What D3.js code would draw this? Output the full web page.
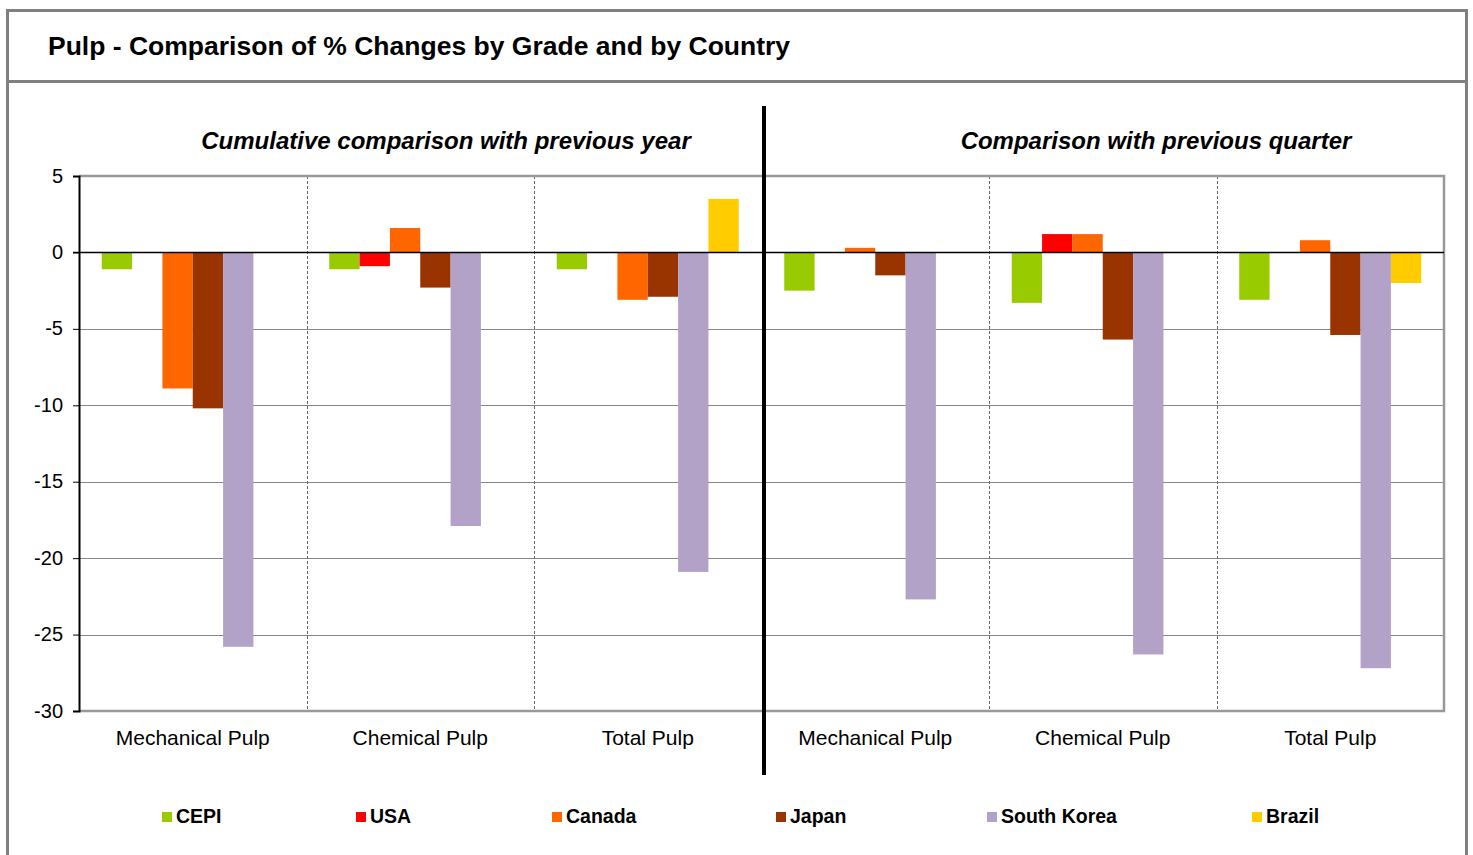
<!DOCTYPE html>
<html lang="en">
<head>
<meta charset="utf-8">
<title>Pulp - Comparison of % Changes</title>
<style>
  body { margin: 0; background: #fff; font-family: "Liberation Sans", Arial, sans-serif; }
  svg { display: block; }
</style>
<script src="https://cdn.jsdelivr.net/npm/d3@7"></script>
</head>
<body>
<script>
// categories along the x axis (first three: cumulative vs prev year, last three: vs prev quarter)
var categories = ["Mechanical Pulp", "Chemical Pulp", "Total Pulp", "Mechanical Pulp", "Chemical Pulp", "Total Pulp"];
var seriesNames = ["CEPI", "USA", "Canada", "Japan", "South Korea", "Brazil"];
var seriesColors = ["#99cc00", "#ff0000", "#ff6600", "#993300", "#b3a2c7", "#ffcc00"];

// % change values per series, one per category (null = no bar)
var cepi       = [-1.1, -1.1, -1.1, -2.5, -3.3, -3.1];
var usa        = [null, -0.9, null, null, 1.2, null];
var canada     = [-8.9, 1.6, -3.1, 0.3, 1.2, 0.8];
var japan      = [-10.2, -2.3, -2.9, -1.5, -5.7, -5.4];
var southKorea = [-25.8, -17.9, -20.9, -22.7, -26.3, -27.2];
var brazil     = [null, null, 3.5, null, null, -2.0];

var yTicks = [5, 0, -5, -10, -15, -20, -25, -30];
var panelTitles = ["Cumulative comparison with previous year", "Comparison with previous quarter"];

var allSeries = [cepi, usa, canada, japan, southKorea, brazil];

var W = 1473, H = 855;
var plot = { left: 79, right: 1444, top: 176, bottom: 711 };
var FONT = "Liberation Sans, Arial, sans-serif";

var svg = d3.select("body").append("svg").attr("width", W).attr("height", H)
  .attr("font-family", FONT);

// outer frame
svg.append("rect").attr("x", 7.5).attr("y", 10.5).attr("width", 1459).attr("height", 860)
  .attr("fill", "none").attr("stroke", "#808080").attr("stroke-width", 3);
svg.append("line").attr("x1", 7).attr("x2", 1467).attr("y1", 81.5).attr("y2", 81.5)
  .attr("stroke", "#808080").attr("stroke-width", 3);

svg.append("text").attr("x", 48).attr("y", 55)
  .attr("font-size", 26.5).attr("font-weight", "bold").attr("fill", "#000")
  .text("Pulp - Comparison of % Changes by Grade and by Country");

var y = d3.scaleLinear().domain([-30, 5]).range([plot.bottom, plot.top]);
var x0 = d3.scaleBand().domain(d3.range(categories.length)).range([plot.left, plot.right]).padding(0);
var x1 = d3.scaleBand().domain(d3.range(seriesNames.length)).range([0, x0.bandwidth()])
  .paddingInner(0).paddingOuter(0.75);

// gridlines
svg.append("g").selectAll("line").data(yTicks.filter(function(d){ return d !== 0 && d !== 5 && d !== -30; }))
  .enter().append("line")
  .attr("x1", plot.left).attr("x2", plot.right)
  .attr("y1", function(d){ return Math.round(y(d)) + 0.5; })
  .attr("y2", function(d){ return Math.round(y(d)) + 0.5; })
  .attr("stroke", "#868686").attr("stroke-width", 1);

// dashed category dividers
svg.append("g").selectAll("line").data([1, 2, 4, 5]).enter().append("line")
  .attr("x1", function(d){ return Math.round(x0(d)) + 0.5; })
  .attr("x2", function(d){ return Math.round(x0(d)) + 0.5; })
  .attr("y1", plot.top).attr("y2", plot.bottom)
  .attr("stroke", "#666").attr("stroke-width", 1).attr("stroke-dasharray", "3,2");

// plot border (top, right, bottom)
svg.append("path")
  .attr("d", "M" + plot.left + "," + plot.top + "H" + plot.right + "V" + plot.bottom + "H" + plot.left)
  .attr("fill", "none").attr("stroke", "#999").attr("stroke-width", 2.5);

// bars
var barData = [];
allSeries.forEach(function(vals, s) {
  vals.forEach(function(v, c) {
    if (v !== null) barData.push({ s: s, c: c, v: v });
  });
});
svg.append("g").selectAll("rect").data(barData).enter().append("rect")
  .attr("x", function(d){ return x0(d.c) + x1(d.s); })
  .attr("width", x1.bandwidth())
  .attr("y", function(d){ return y(Math.max(0, d.v)); })
  .attr("height", function(d){ return Math.abs(y(d.v) - y(0)); })
  .attr("fill", function(d){ return seriesColors[d.s]; });

// zero line
svg.append("line").attr("x1", plot.left - 6).attr("x2", plot.right)
  .attr("y1", y(0)).attr("y2", y(0)).attr("stroke", "#000").attr("stroke-width", 1.5);

// y axis (plain hyphen minus like the original)
var yAxis = d3.axisLeft(y).tickValues(yTicks).tickSize(6).tickPadding(10)
  .tickFormat(function(d){ return String(d); });
var yg = svg.append("g").attr("transform", "translate(" + plot.left + ",0)").call(yAxis);
yg.attr("font-family", FONT);
yg.select(".domain").attr("stroke", "#000").attr("stroke-width", 2);
yg.selectAll(".tick line").attr("stroke", "#000");
yg.selectAll(".tick text").attr("font-size", 20).attr("fill", "#000").attr("dy", "0.3em");

// category labels
svg.append("g").selectAll("text").data(categories).enter().append("text")
  .attr("x", function(d, i){ return x0(i) + x0.bandwidth() / 2; })
  .attr("y", 745)
  .attr("text-anchor", "middle").attr("font-size", 21).attr("fill", "#000")
  .text(function(d){ return d; });

// panel divider
var mid = x0(3) + 2.5;
svg.append("line").attr("x1", mid).attr("x2", mid).attr("y1", 106).attr("y2", 775)
  .attr("stroke", "#000").attr("stroke-width", 4);

// panel subtitles
svg.append("g").selectAll("text").data(panelTitles).enter().append("text")
  .attr("x", function(d, i){ return i === 0 ? 446 : 1156; })
  .attr("y", 149)
  .attr("text-anchor", "middle").attr("font-size", 24).attr("font-weight", "bold")
  .attr("font-style", "italic").attr("fill", "#000")
  .text(function(d){ return d; });

// legend
var legendX = [162, 356, 552, 776, 987, 1252];
var lg = svg.append("g").selectAll("g").data(seriesNames).enter().append("g")
  .attr("transform", function(d, i){ return "translate(" + legendX[i] + ",812)"; });
lg.append("rect").attr("width", 10).attr("height", 10)
  .attr("fill", function(d, i){ return seriesColors[i]; });
lg.append("text").attr("x", 14).attr("y", 11)
  .attr("font-size", 19.5).attr("font-weight", "bold").attr("fill", "#000")
  .text(function(d){ return d; });
</script>
</body>
</html>
